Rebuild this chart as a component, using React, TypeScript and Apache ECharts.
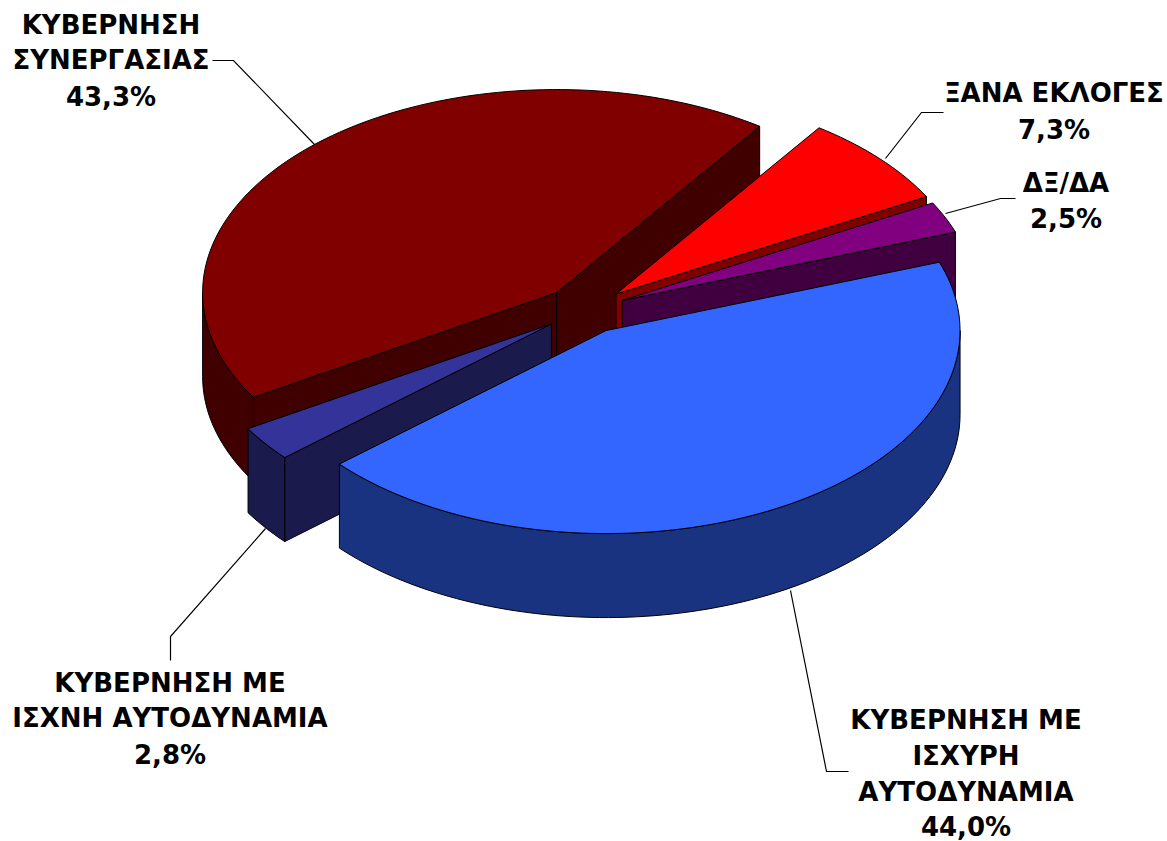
import React, { useEffect, useRef } from "react";
import * as echarts from "echarts";

// Slices in clockwise order, from the pie's first angle
const categories = ["ΞΑΝΑ ΕΚΛΟΓΕΣ", "ΔΞ/ΔΑ", "ΚΥΒΕΡΝΗΣΗ ΜΕ ΙΣΧΥΡΗ ΑΥΤΟΔΥΝΑΜΙΑ", "ΚΥΒΕΡΝΗΣΗ ΜΕ ΙΣΧΝΗ ΑΥΤΟΔΥΝΑΜΙΑ", "ΚΥΒΕΡΝΗΣΗ ΣΥΝΕΡΓΑΣΙΑΣ"];
const values = [7.3, 2.5, 44.0, 2.8, 43.3];
const topColors = ["#ff0000", "#800080", "#3366ff", "#333399", "#800000"];
const sideColors = ["#800000", "#400040", "#1a3380", "#1a1a4d", "#400000"];
const explodes = [0.1175, 0.115, 0.1175, 0.1175, 0.1175];
const drawOrder = [4, 0, 1, 3, 2];

const labelLines = [
  ["ΞΑΝΑ ΕΚΛΟΓΕΣ", "7,3%"],
  ["ΔΞ/ΔΑ", "2,5%"],
  ["ΚΥΒΕΡΝΗΣΗ ΜΕ", "ΙΣΧΥΡΗ", "ΑΥΤΟΔΥΝΑΜΙΑ", "44,0%"],
  ["ΚΥΒΕΡΝΗΣΗ ΜΕ", "ΙΣΧΝΗ ΑΥΤΟΔΥΝΑΜΙΑ", "2,8%"],
  ["ΚΥΒΕΡΝΗΣΗ", "ΣΥΝΕΡΓΑΣΙΑΣ", "43,3%"],
];
const labelCenterX = [1054, 1066, 966, 170, 111];
const labelLineY = [
  [93, 130],
  [183, 219],
  [720, 756, 792, 827],
  [683, 718, 755],
  [25, 60, 97],
];
const leaderLines = [
  [[885, 158], [921, 112], [943, 112]],
  [[945, 213], [1000, 198], [1015, 198]],
  [[790, 590], [826, 771], [848, 771]],
  [[265, 528], [170, 636], [170, 660]],
  [[212, 60], [233, 60], [314, 144]],
];

const startAngle = 35;
const CX = 585;
const CY = 310;
const RX = 354;
const RY = 203;
const DEPTH = 84;
const RAD = Math.PI / 180;
const total = values.reduce((a, b) => a + b, 0);

function sliceAngles() {
  let a = startAngle;
  return values.map((v) => {
    const s = a;
    a += (v / total) * 360;
    return [s, a];
  });
}

function arcPoints(ax: number, ay: number, t1: number, t2: number) {
  const pts: number[][] = [];
  const n = Math.max(2, Math.ceil(Math.abs(t2 - t1) / 1.5));
  for (let i = 0; i <= n; i++) {
    const t = (t1 + ((t2 - t1) * i) / n) * RAD;
    pts.push([ax + RX * Math.sin(t), ay - RY * Math.cos(t)]);
  }
  return pts;
}

export default function App() {
  const ref = useRef<HTMLDivElement>(null);
  useEffect(() => {
    document.body.style.margin = "0";
    const chart = echarts.init(ref.current!, null, { renderer: "svg" });
    const angles = sliceAngles();

    const renderItem = (params: any, api: any) => {
      const i = drawOrder[params.dataIndex];
      const [t1, t2] = angles[i];
      const mid = ((t1 + t2) / 2) * RAD;
      const e = explodes[i];
      const ax = CX + e * RX * Math.sin(mid);
      const ay = CY - e * RY * Math.cos(mid);
      const sideStyle = { fill: sideColors[i], stroke: "#000", lineWidth: 1 };
      const topStyle = { fill: topColors[i], stroke: "#000", lineWidth: 1 };
      const children: any[] = [];
      const cutFace = (t: number) => {
        const p = arcPoints(ax, ay, t, t)[0];
        children.push({
          type: "polygon",
          shape: { points: [[ax, ay], p, [p[0], p[1] + DEPTH], [ax, ay + DEPTH]] },
          style: sideStyle,
        });
      };
      if (Math.sin(t1 * RAD) < 0) cutFace(t1);
      if (Math.sin(t2 * RAD) > 0) cutFace(t2);
      const w1 = Math.max(t1, 90);
      const w2 = Math.min(t2, 270);
      if (w2 > w1) {
        const upper = arcPoints(ax, ay, w1, w2);
        const lower = upper.map((p) => [p[0], p[1] + DEPTH]).reverse();
        children.push({ type: "polygon", shape: { points: upper.concat(lower) }, style: sideStyle });
      }
      children.push({
        type: "polygon",
        shape: { points: [[ax, ay], ...arcPoints(ax, ay, t1, t2)] },
        style: topStyle,
      });
      return { type: "group", children };
    };

    const font = "bold 26px 'DejaVu Sans'";
    chart.setOption({
      animation: false,
      backgroundColor: "#ffffff",
      series: [
        {
          type: "custom",
          coordinateSystem: "none",
          silent: true,
          z: 2,
          renderItem,
          data: drawOrder.map((i) => ({ name: categories[i], value: values[i] })),
        },
      ],
      graphic: [
        ...leaderLines.map((pts) => ({
          type: "polyline",
          z: 1,
          x: 0.5,
          y: 0.5,
          silent: true,
          shape: { points: pts },
          style: { stroke: "#000", lineWidth: 1.2, fill: "none" },
        })),
        ...labelLines.flatMap((lines, i) =>
          lines.map((text, j) => ({
            type: "text",
            z: 3,
            silent: true,
            x: labelCenterX[i],
            y: labelLineY[i][j],
            style: {
              text,
              font,
              fill: "#000",
              align: "center",
              verticalAlign: "middle",
            },
          }))
        ),
      ],
    });
    return () => chart.dispose();
  }, []);
  return <div ref={ref} style={{ width: 1167, height: 841 }} />;
}
